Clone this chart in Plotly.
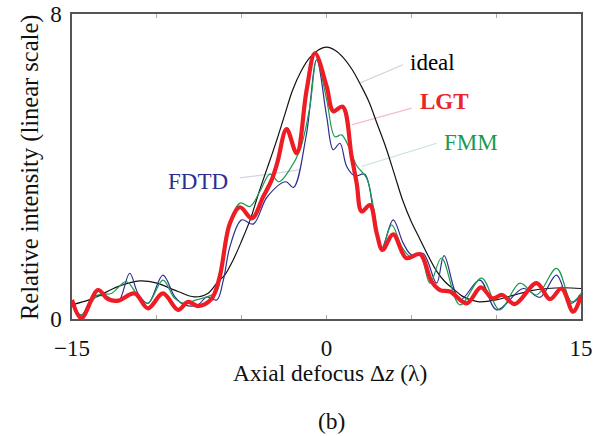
import plotly.graph_objects as go

# ---- data ----
ideal_x = [-15, -14, -13.5, -12.3, -11, -10, -8.75, -7.8, -7, -6.4, -6, -5.5, -5, -4.5, -4, -3.5, -3, -2.5, -2,
           -1.5, -1, -0.5, 0, 0.5, 1, 1.5, 2, 2.5, 3, 3.5, 4, 4.5, 5, 5.5, 6, 6.5, 7, 7.5, 8, 8.5, 9, 10,
           11, 12, 13, 14, 15]
ideal_y = [0.37, 0.50, 0.59, 0.85, 1.00, 0.94, 0.72, 0.58, 0.67, 0.98, 1.15, 1.55, 2.05, 2.60, 3.30, 3.95, 4.60,
           5.30, 6.00, 6.50, 6.85, 7.05, 7.13, 7.05, 6.85, 6.55, 6.15, 5.70, 5.10, 4.50, 3.80, 3.10, 2.55,
           2.10, 1.65, 1.25, 0.97, 0.78, 0.60, 0.50, 0.45, 0.50, 0.62, 0.74, 0.80, 0.82, 0.80]

lgt_x = [-15, -14.45, -13.47, -12.88, -12.29, -11.31, -10.52, -9.64, -8.75, -8.16, -7.58, -6.79, -6.3, -5.7,
         -5.1, -4.4, -3.73, -3.23, -2.9, -2.35, -1.76, -1.17, -0.68, 0.01, 0.4, 0.95, 1.48, 1.78, 2.07,
         2.56, 2.96, 3.3, 3.93, 4.7, 5.51, 6.2, 6.69, 7.28, 8.26, 9.1, 9.78, 10.36, 11.1, 12.38, 13.17,
         13.85, 14.54, 15]
lgt_y = [0.50, 0.02, 0.76, 0.52, 0.48, 0.67, 0.28, 0.67, 0.24, 0.45, 0.34, 0.52, 1.10, 2.50,
         2.93, 2.64, 3.21, 3.65, 4.10, 4.98, 4.35, 6.01, 6.97, 6.10, 5.45, 5.57, 4.26, 3.56, 2.82,
         2.99, 2.25, 1.81, 2.22, 1.60, 1.70, 0.98, 0.76, 0.72, 0.41, 0.83, 0.54, 0.63, 0.39, 0.94, 0.52,
         0.80, 0.19, 0.62]

fdtd_x = [-15, -14.45, -13.76, -13.0, -12.29, -11.6, -11.11, -10.52, -9.64, -8.95, -8.36, -7.58, -7.06,
          -6.47, -6.08, -5.69, -5.0, -4.32, -3.5, -2.4, -1.95, -1.2, -0.58, 0.01, 0.4, 0.79, 1.19, 1.68,
          2.25, 2.76, 3.25, 3.93, 4.52, 5.02, 5.7, 6.49, 6.93, 7.86, 9.04, 10.03, 11.6, 12.58, 13.56,
          14.35, 15]
fdtd_y = [0.37, 0.10, 0.59, 0.60, 0.45, 1.20, 0.67, 0.41, 1.15, 0.59, 0.37, 0.37, 0.58,
          0.50, 1.02, 1.90, 2.60, 2.49, 3.20, 3.60, 3.45, 4.80, 6.80, 5.31, 4.44, 4.61, 4.00, 3.75,
          3.80, 2.86, 1.86, 2.60, 1.99, 1.68, 1.72, 0.94, 1.66, 0.50, 1.02, 0.24, 0.80, 0.57, 1.15,
          0.41, 0.62]

fmm_x = [-15, -14.45, -13.47, -12.68, -11.8, -11.1, -10.52, -9.64, -8.95, -8.36, -7.68, -6.99, -6.47,
         -5.9, -5.1, -4.51, -3.92, -3.33, -2.8, -2.2, -1.56, -0.98, -0.58, 0.01, 0.5, 0.89, 1.38, 1.78,
         2.36, 2.76, 3.25, 3.84, 4.43, 4.92, 5.51, 6.1, 6.78, 7.86, 9.14, 10.2, 11.4, 12.38, 13.56,
         14.45, 15]
fmm_y = [0.45, 0.10, 0.63, 0.67, 0.98, 0.60, 0.41, 1.02, 0.54, 0.41, 0.50, 0.59, 0.72,
         2.20, 3.04, 2.95, 3.35, 3.80, 3.60, 3.90, 4.44, 5.57, 6.80, 5.75, 4.78, 4.83, 4.44, 4.02,
         3.70, 2.95, 1.81, 2.47, 1.90, 1.64, 1.68, 0.94, 1.60, 0.37, 1.07, 0.24, 0.94, 0.63, 1.33,
         0.45, 0.67]

x_tickvals = [-15, -10, -5, 0, 5, 10, 15]
x_ticktext = ["\u221215", "", "", "0", "", "", "15"]
y_tickvals = [0, 8]
y_ticktext = ["0", "8"]

# series labels: (text, x, y, anchor, color, bold), leader line endpoints
labels = [("ideal", 4.82, 6.72, "left", "#000000", False),
          ("LGT", 5.39, 5.70, "left", "#e8262b", True),
          ("FMM", 6.80, 4.62, "left", "#1a9a50", False),
          ("FDTD", -5.69, 3.60, "right", "#2b2f8f", False)]
leaders = [((1.97, 6.19), (4.50, 6.67), "#d9cdd6"),
           ((1.48, 5.09), (5.02, 5.53), "#f3bccb"),
           ((2.07, 4.00), (6.49, 4.61), "#c5e2e2"),
           ((-5.10, 3.70), (-1.56, 3.91), "#d4d4e2")]

FONT = "Liberation Serif, Times New Roman, serif"
W, H = 595, 436
ML, MR, MT, MB = 72, 14, 14, 117
pw, ph = W - ML - MR, H - MT - MB


def px2paper(px, py):
    return (px - ML) / pw, (H - MB - py) / ph


fig = go.Figure()
fig.add_trace(go.Scatter(x=ideal_x, y=ideal_y, mode="lines", name="ideal",
                         line=dict(color="#111111", width=1.2, shape="spline", smoothing=1.0)))
fig.add_trace(go.Scatter(x=fdtd_x, y=fdtd_y, mode="lines", name="FDTD",
                         line=dict(color="#2b2f8f", width=1.2, shape="spline", smoothing=1.0)))
fig.add_trace(go.Scatter(x=fmm_x, y=fmm_y, mode="lines", name="FMM",
                         line=dict(color="#1a9a50", width=1.2, shape="spline", smoothing=1.0)))
fig.add_trace(go.Scatter(x=lgt_x, y=lgt_y, mode="lines", name="LGT",
                         line=dict(color="#ee1c25", width=4.2, shape="spline", smoothing=1.0)))

for (p0, p1, c) in leaders:
    fig.add_shape(type="line", x0=p0[0], y0=p0[1], x1=p1[0], y1=p1[1], xref="x", yref="y",
                  line=dict(color=c, width=1.2), layer="below")

for (t, x, y, anc, c, b) in labels:
    fig.add_annotation(x=x, y=y, xref="x", yref="y", text=("<b>%s</b>" % t) if b else t,
                       showarrow=False, xanchor=anc, yanchor="middle",
                       font=dict(family=FONT, size=23, color=c))

ax, ay = px2paper(330, 373)
fig.add_annotation(x=ax, y=ay, xref="paper", yref="paper", xanchor="center", yanchor="middle",
                   text="Axial defocus \u0394<i>z</i> (\u03bb)", showarrow=False,
                   font=dict(family=FONT, size=23.5, color="#111"))
bx, by = px2paper(331, 421)
fig.add_annotation(x=bx, y=by, xref="paper", yref="paper", xanchor="center", yanchor="middle",
                   text="(b)", showarrow=False, font=dict(family=FONT, size=23.5, color="#111"))
tx, ty = px2paper(30, 168)
fig.add_annotation(x=tx, y=ty, xref="paper", yref="paper", xanchor="center", yanchor="middle",
                   text="Relative intensity (linear scale)", showarrow=False, textangle=-90,
                   font=dict(family=FONT, size=24.5, color="#111"))

fig.update_layout(
    width=W, height=H,
    margin=dict(l=ML, r=MR, t=MT, b=MB, autoexpand=False),
    paper_bgcolor="white", plot_bgcolor="white",
    showlegend=False,
    font=dict(family=FONT, size=23, color="#111"),
    xaxis=dict(range=[-15, 15], tickvals=x_tickvals, ticktext=x_ticktext, ticks="inside",
               ticklen=4, tickcolor="#aaaaaa", showgrid=False, zeroline=False,
               showline=True, linecolor="#555555", linewidth=1.5, mirror="allticks",
               ticklabelstandoff=8, automargin=False,
               tickfont=dict(family=FONT, size=23, color="#111")),
    yaxis=dict(range=[0, 8], tickvals=y_tickvals, ticktext=y_ticktext, ticks="",
               showgrid=False, zeroline=False, showline=True, linecolor="#555555",
               linewidth=1.5, mirror=True, ticklabelstandoff=4, automargin=False,
               tickfont=dict(family=FONT, size=23, color="#111")),
)

fig.write_html("out.html")
